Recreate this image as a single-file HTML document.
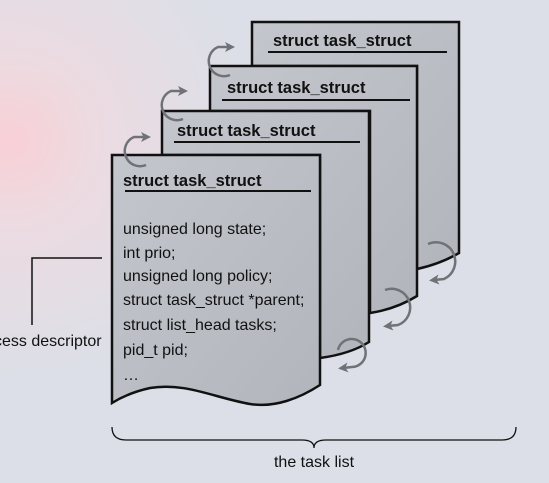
<!DOCTYPE html>
<html><head><style>
html,body{margin:0;padding:0;}
body{width:549px;height:478px;overflow:hidden;background:#dcdfe7;}
</style></head><body>
<svg width="549" height="478" viewBox="0 0 549 478" xmlns="http://www.w3.org/2000/svg" font-family="Liberation Sans, sans-serif">
<defs>
<radialGradient id="bg" cx="10" cy="140" r="240" gradientUnits="userSpaceOnUse">
<stop offset="0" stop-color="#f8d0d6"/><stop offset="0.35" stop-color="#ecdbe1"/><stop offset="1" stop-color="#dcdfe7"/>
</radialGradient>
<linearGradient id="card" x1="0" y1="0" x2="1" y2="1">
<stop offset="0" stop-color="#c4c6cd"/><stop offset="1" stop-color="#b3b5bd"/>
</linearGradient>
<marker id="ah" markerWidth="10" markerHeight="10" refX="5" refY="5" orient="auto" markerUnits="userSpaceOnUse">
<path d="M0,0 L10,5 L0,10 L2.5,5 Z" fill="#707278"/>
</marker>
</defs>
<rect width="549" height="478" fill="url(#bg)"/>
<g stroke="#111" stroke-width="2.5" fill="url(#card)">
<path d="M252,22 H459 V253 Q440,264 417,269 V66 H252 Z"/>
<path d="M210,66 H417 V296 Q396,309 370,313 V111 H210 Z"/>
<path d="M162,111 H369 V342 Q350,354 320,358 V155 H162 Z"/>
<path d="M112,155 H320 V385 C300,398 275,408 250,404 C215,398 185,382 150,388 C132,392 120,398 112,403 Z"/>
</g>
<g font-weight="bold" font-size="16.5" fill="#111">
<text x="273" y="46">struct task_struct</text>
<text x="227" y="93">struct task_struct</text>
<text x="177" y="136">struct task_struct</text>
<text x="123" y="186">struct task_struct</text>
</g>
<g stroke="#111" stroke-width="2">
<line x1="268" y1="52" x2="447" y2="52"/>
<line x1="222" y1="100" x2="410" y2="100"/>
<line x1="174" y1="142" x2="360" y2="142"/>
<line x1="125" y1="191" x2="311" y2="191"/>
</g>
<g font-size="16" fill="#111">
<text x="123" y="234">unsigned long state;</text>
<text x="123" y="258">int prio;</text>
<text x="123" y="281">unsigned long policy;</text>
<text x="123" y="305">struct task_struct *parent;</text>
<text x="123" y="330">struct list_head tasks;</text>
<text x="123" y="355">pid_t pid;</text>
<text x="123" y="380">…</text>
<text x="-6" y="346">cess descriptor</text>
<text x="314" y="467" text-anchor="middle">the task list</text>
</g>
<path d="M102,258 H32 V325" stroke="#111" stroke-width="1.5" fill="none"/>
<path d="M112,427 Q112,440 126,440 H302 Q314,440 314,448 Q314,440 326,440 H502 Q516,440 516,427" stroke="#111" stroke-width="1.3" fill="none"/>
<g stroke="#707278" stroke-width="2.5" fill="none" marker-end="url(#ah)">
<path d="M146,165 A15,15 0 1 1 134,137 L146,137"/>
<path d="M183,119 A15,15 0 1 1 171,91 L183,91"/>
<path d="M230,75 A15,15 0 1 1 218,47 L230,47"/>
<path d="M338,350 A14,14 0 1 1 352,367 L343,368"/>
<path d="M385,290 A14,14 0 1 1 398,325 L388,326"/>
<path d="M428,244 A14,14 0 1 1 444,279 L434,280"/>
</g>
</svg>
</body></html>
